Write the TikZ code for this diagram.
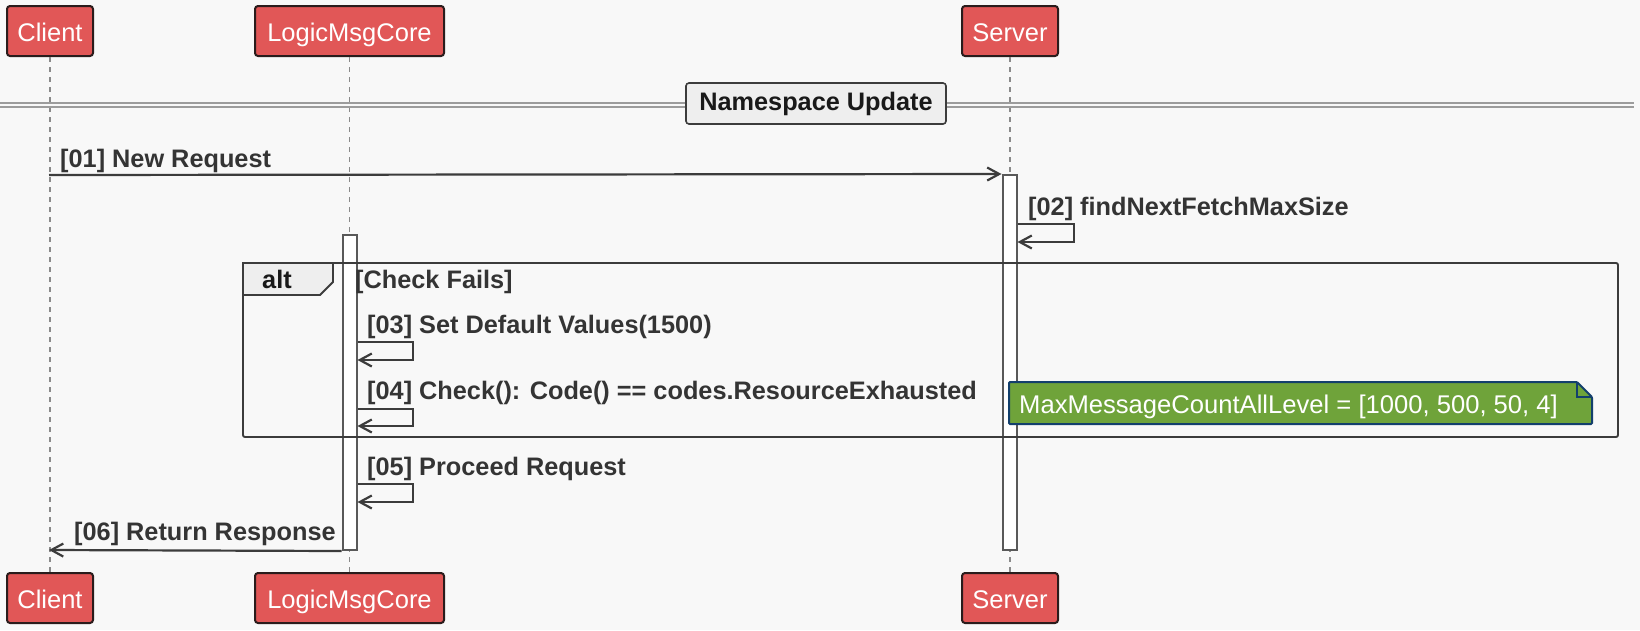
\documentclass[tikz,border=0pt]{standalone}
\usepackage{fontspec}
\setmainfont{Liberation Sans}
\usetikzlibrary{arrows.meta}
\definecolor{bg}{HTML}{F8F8F8}
\definecolor{partred}{HTML}{E15757}
\definecolor{partborder}{HTML}{2A1C1C}
\definecolor{msgtext}{HTML}{343434}
\definecolor{linecol}{HTML}{3C3C3C}
\definecolor{lifegray}{HTML}{8A8A8A}
\definecolor{tabfill}{HTML}{EEEEEE}
\definecolor{sepgray}{HTML}{9C9C9C}
\definecolor{notegreen}{HTML}{6FA33A}
\definecolor{noteborder}{HTML}{133F6C}
\tikzset{
  part/.style={draw=partborder, fill=partred, rounded corners=3pt, line width=2pt,
    text=white, font=\fontsize{25.5}{30}\selectfont, minimum height=50pt, inner sep=0pt,
    text height=20pt, text depth=0pt},
  life/.style={draw=lifegray, line width=1.3pt, dash pattern=on 5pt off 5pt},
  actbox/.style={draw=linecol!85, fill=white, line width=2pt, minimum width=14pt, inner sep=0pt},
  msg/.style={draw=linecol, line width=2.2pt, -{Straight Barb[length=12pt,width=13pt,line width=2.2pt]}},
  msglabel/.style={anchor=base west, inner sep=0pt, text=msgtext, font=\fontsize{25.3}{30}\selectfont\bfseries},
  framebox/.style={draw=linecol, line width=1.9pt, rounded corners=2pt},
  notetext/.style={anchor=base west, inner sep=0pt, text=white, font=\fontsize{25.6}{30}\selectfont},
}
\begin{document}
\begin{tikzpicture}[x=1pt,y=-1pt]
\fill[bg] (0,0) rectangle (1640,630);
\useasboundingbox (0,0) rectangle (1640,630);

% participants
\node[part, minimum width=86pt] (clientT) at (50,31) {Client};
\node[part, minimum width=189pt] (coreT) at (349.5,31) {LogicMsgCore};
\node[part, minimum width=96pt] (serverT) at (1010,31) {Server};
\node[part, minimum width=86pt] (clientB) at (50,598) {Client};
\node[part, minimum width=189pt] (coreB) at (349.5,598) {LogicMsgCore};
\node[part, minimum width=96pt] (serverB) at (1010,598) {Server};

% lifelines
\draw[life] (clientT.south) -- (clientB.north);
\draw[life] (coreT.south) -- (coreB.north);
\draw[life] (serverT.south) -- (serverB.north);

% separator
\draw[sepgray, line width=1.6pt] (0,103) -- (1634,103);
\draw[sepgray, line width=1.6pt] (0,107) -- (1634,107);
\node[draw=linecol, fill=tabfill, rounded corners=3pt, line width=1.6pt,
  minimum width=260pt, minimum height=41pt, inner sep=0pt,
  font=\fontsize{25.3}{30}\selectfont\bfseries, text=black!90] (sep) at (816,103.5) {Namespace Update\hspace{8pt}};

% activations
\node[actbox, minimum height=375pt] (srvAct) at (1009.5,362.5) {};
\node[actbox, minimum width=14pt, minimum height=315pt] (coreAct) at (349.5,392.5) {};

% alt frame
\draw[framebox] (243,263) rectangle (1618,437);
\filldraw[draw=linecol, fill=tabfill, line width=1.9pt]
  (243,263) -- (333,263) -- (333,282) -- (320,295) -- (243,295) -- cycle;
\node[anchor=base west, inner sep=0pt, text=black!90, font=\fontsize{25.3}{30}\selectfont\bfseries] (altlbl) at (262,288) {alt};
\node[msglabel] (guard) at (355,288) {[Check Fails]};

% messages
\coordinate (m1s) at (49,175);
\draw[msg] (m1s) -- (srvAct.north west);
\node[msglabel] (l1) at (60,167) {[01] New Request};

\draw[msg] (srvAct.east |- 0,224) -- (1074,224) -- (1074,242) -- (srvAct.east |- 0,242);
\node[msglabel] (l2) at (1028,215) {[02] findNextFetchMaxSize};

\draw[msg] (coreAct.east |- 0,342) -- (413,342) -- (413,360) -- (coreAct.east |- 0,360);
\node[msglabel] (l3) at (367,333) {[03] Set Default Values(1500)};

\draw[msg] (coreAct.east |- 0,409) -- (413,409) -- (413,426) -- (coreAct.east |- 0,426);
\node[msglabel] (l4) at (367,399) {[04] Check(): Code() == codes.ResourceExhausted};

\draw[msg] (coreAct.east |- 0,484) -- (413,484) -- (413,502) -- (coreAct.east |- 0,502);
\node[msglabel] (l5) at (367,475) {[05] Proceed Request};

\coordinate (m6e) at (49,550);
\draw[msg] (coreAct.south west) -- (m6e);
\node[msglabel] (l6) at (74,540) {[06] Return Response};

% note
\filldraw[draw=noteborder, fill=notegreen, line width=2pt, rounded corners=1pt]
  (1009,382) -- (1577,382) -- (1592,397) -- (1592,424) -- (1009,424) -- cycle;
\draw[draw=noteborder, line width=2pt] (1577,382) -- (1577,397) -- (1592,397);
\node[notetext] (note) at (1019,413) {MaxMessageCountAllLevel = [1000, 500, 50, 4]};
\end{tikzpicture}
\end{document}
